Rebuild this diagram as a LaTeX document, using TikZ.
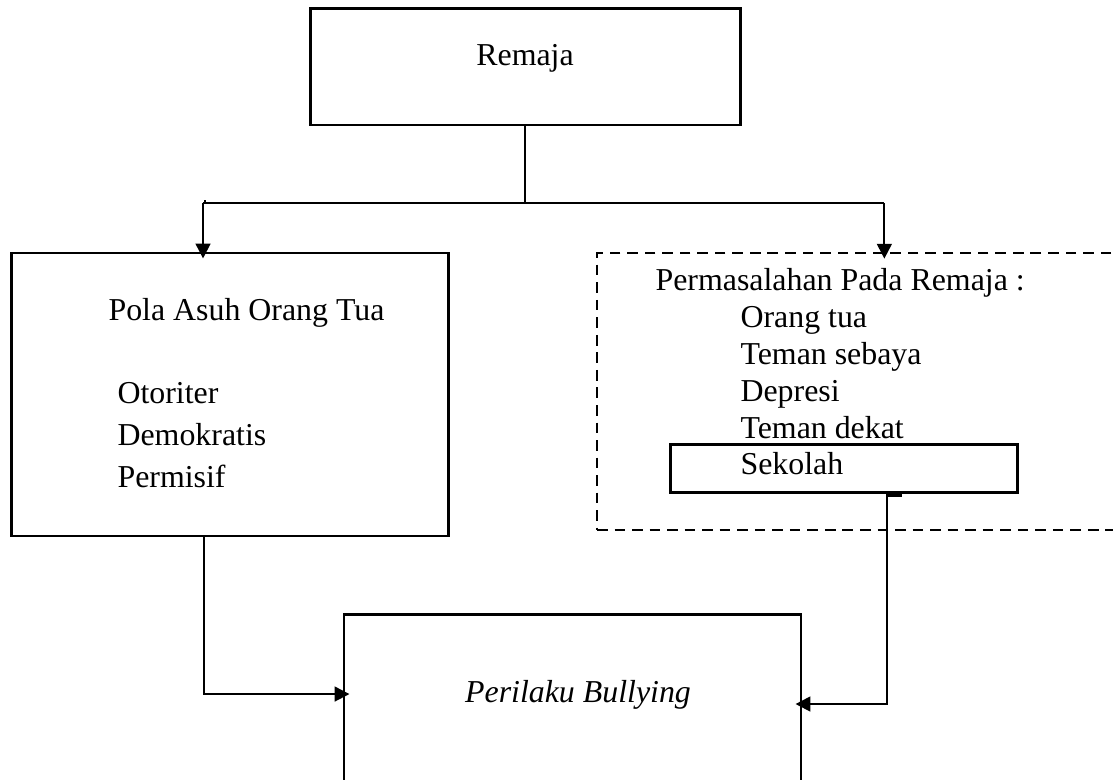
\documentclass[tikz,border=0pt]{standalone}
\usepackage{fontspec}
\setmainfont{Liberation Serif}
\usetikzlibrary{calc, positioning, arrows.meta}
\tikzset{
    box/.style={rectangle, draw=black, line width=1.1pt, inner sep=0pt},
    dashbox/.style={rectangle, draw=black, line width=0.9pt, dash pattern=on 4pt off 2.6pt, inner sep=0pt},
    txt/.style={font=\fontsize{12pt}{14pt}\selectfont, inner sep=0pt},
    link/.style={line width=0.75pt},
    arrow/.style={-{Triangle[length=5.6pt, width=5.6pt]}, line width=0.75pt, shorten >=-2.6pt}
}

\begin{document}
\begin{tikzpicture}
    \useasboundingbox (0,0) rectangle (14.725,10.319);

    % boxes
    \node[box, minimum width=5.70cm, minimum height=1.535cm] (remaja) at (6.952,9.433) {};
    \node[box, minimum width=5.781cm, minimum height=3.744cm] (pola) at (3.037,5.100) {};
    \node[dashbox, minimum width=7.60cm, minimum height=3.665cm] (masalah) at (11.698,5.140) {};
    \node[box, minimum width=4.591cm, minimum height=0.635cm] (sekolah) at (11.160,4.115) {};
    \node[box, minimum width=6.046cm, minimum height=3.2cm, anchor=north] (bullying) at (7.574,2.209) {};

    % texts
    \node[txt, anchor=base] (remajalbl) at (6.946,9.446) {Remaja};
    \node[txt, anchor=base west] (polalbl) at (1.429,6.085) {Pola Asuh Orang Tua};
    \foreach \t [count=\i from 0] in {Otoriter, Demokratis, Permisif}
        \node[txt, anchor=base west] (pola\i) at (1.548,4.987-0.556*\i) {\t};
    \node[txt, anchor=base west] (masalahlbl) at (8.666,6.482) {Permasalahan Pada Remaja :};
    \foreach \t [count=\i from 0] in {Orang tua, Teman sebaya, Depresi, Teman dekat, Sekolah}
        \node[txt, anchor=base west] (masalah\i) at (9.790,5.980-0.486*\i) {\t};
    \node[txt, anchor=base] (bullyinglbl) at (7.647,1.02) {\itshape Perilaku Bullying};

    % connectors
    \coordinate (forkL) at (2.686,7.633);
    \coordinate (forkR) at (11.70,7.633);
    \coordinate (dropL) at (2.70,1.137);
    \coordinate (dropR) at (11.735,1.005);

    \draw[link] (remaja.south) -- (remaja.south |- forkL);
    \draw[link] (forkL) -- (forkR);
    \draw[link] (forkL) ++(0.03,0) -- ++(0,0.04);
    \draw[arrow] (forkL) -- (forkL |- pola.north);
    \draw[arrow] (forkR) -- (forkR |- masalah.north);
    \draw[arrow] (pola.south -| dropL) |- (bullying.west |- dropL);
    \draw[arrow] (sekolah.south -| dropR) |- (bullying.east |- dropR);
    \draw[line width=1.6pt] (sekolah.south -| dropR) -- ++(0.2,0);
\end{tikzpicture}
\end{document}
